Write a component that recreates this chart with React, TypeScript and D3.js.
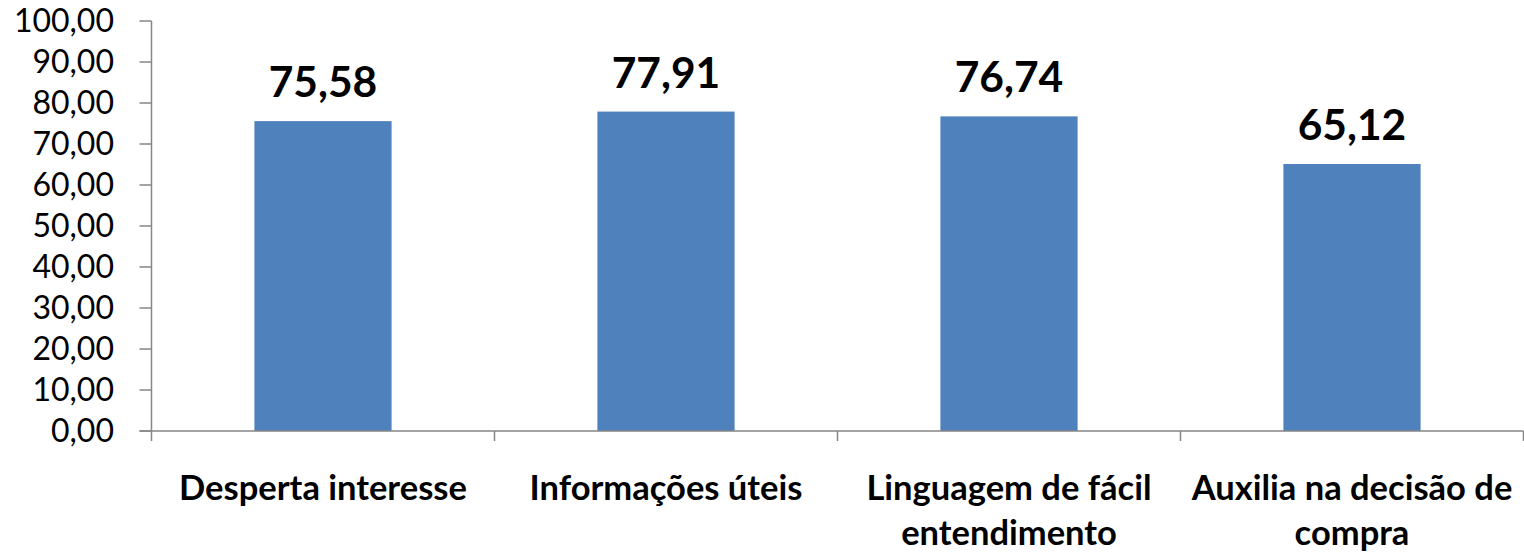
import React from "react";
import * as d3 from "d3";

const categories: string[][] = [
  ["Desperta interesse"],
  ["Informações úteis"],
  ["Linguagem de fácil", "entendimento"],
  ["Auxilia na decisão de", "compra"],
];
const values: number[] = [75.58, 77.91, 76.74, 65.12];
const yTicks: number[] = [0, 10, 20, 30, 40, 50, 60, 70, 80, 90, 100];

const W = 1524;
const H = 554;
const left = 151.5;
const right = 1523.5;
const top = 21;
const bottom = 431;
const FONT = "Lato, 'Open Sans', sans-serif";

const fmt = (v: number) => v.toFixed(2).replace(".", ",");

export default function App() {
  const x = d3
    .scaleBand<number>()
    .domain(values.map((_, i) => i))
    .range([left, right])
    .paddingInner(0)
    .paddingOuter(0);
  const y = d3.scaleLinear().domain([0, 100]).range([bottom, top]);
  const bw = x.bandwidth() / 2.5;
  const axisColor = "#868686";

  return (
    <svg
      width={W}
      height={H}
      style={{ position: "absolute", left: 0, top: 0, background: "#fff" }}
    >
      {values.map((v, i) => {
        const cx = (x(i) as number) + x.bandwidth() / 2;
        return (
          <g key={i}>
            <rect
              x={cx - bw / 2}
              y={y(v)}
              width={bw}
              height={bottom - y(v)}
              fill="#4F81BD"
            />
            <text
              x={cx}
              y={y(v) - 24}
              textAnchor="middle"
              fontFamily={FONT}
              fontWeight={700}
              fontSize={42.5}
              fill="#000"
            >
              {fmt(v)}
            </text>
            {categories[i].map((line, j) => (
              <text
                key={j}
                x={cx}
                y={500 + j * 45}
                textAnchor="middle"
                fontFamily={FONT}
                fontWeight={700}
                fontSize={34.5}
                fill="#000"
              >
                {line}
              </text>
            ))}
          </g>
        );
      })}
      {/* y axis */}
      <line x1={left} x2={left} y1={top} y2={bottom} stroke={axisColor} strokeWidth={1.5} />
      {yTicks.map((t) => (
        <g key={t}>
          <line x1={left - 12} x2={left} y1={y(t)} y2={y(t)} stroke={axisColor} strokeWidth={1.5} />
          <text
            x={114}
            y={y(t) + 11}
            textAnchor="end"
            fontFamily={FONT}
            fontSize={32}
            fill="#000"
          >
            {fmt(t)}
          </text>
        </g>
      ))}
      {/* x axis */}
      <line x1={left - 12} x2={right} y1={bottom} y2={bottom} stroke={axisColor} strokeWidth={1.5} />
      {d3.range(values.length + 1).map((i) => {
        const xx = i < values.length ? (x(i) as number) : right;
        return (
          <line key={i} x1={xx} x2={xx} y1={bottom} y2={bottom + 10} stroke={axisColor} strokeWidth={1.5} />
        );
      })}
    </svg>
  );
}
